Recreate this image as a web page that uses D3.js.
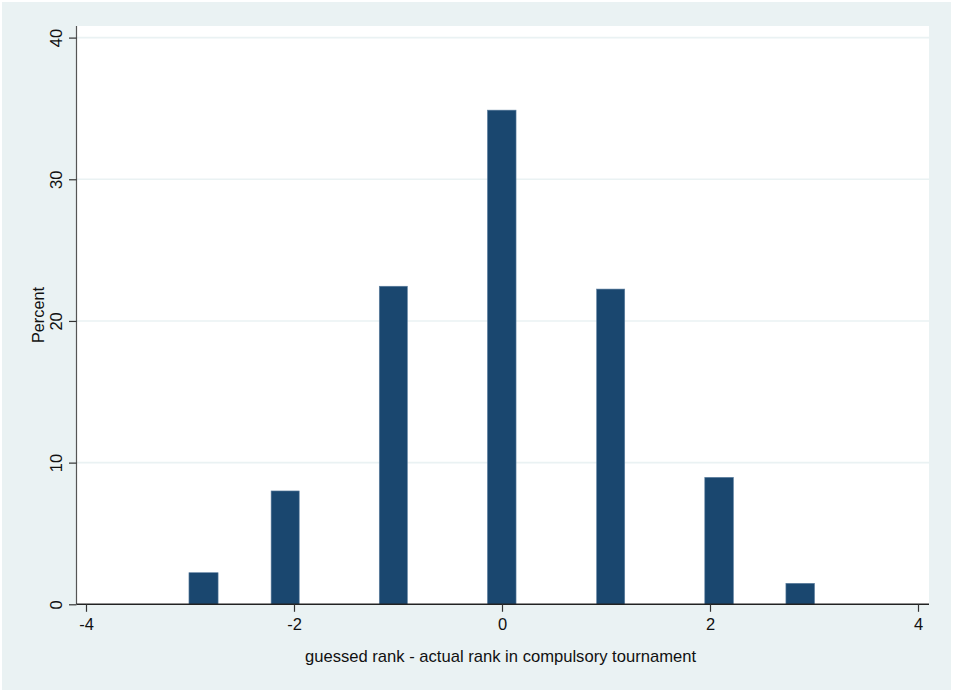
<!DOCTYPE html>
<html>
<head>
<meta charset="utf-8">
<script src="https://cdn.jsdelivr.net/npm/d3@7"></script>
<style>
  html, body { margin: 0; padding: 0; background: #ffffff; }
  svg { display: block; font-family: "Liberation Sans", Arial, sans-serif; }
</style>
</head>
<body>
<svg id="chart" width="953" height="692"></svg>
<script>
// Data (histogram bins: left edge, right edge, percent)
const binStart = [-3.01, -2.22, -1.18, -0.14, 0.91, 1.95, 2.73];
const binEnd   = [-2.73, -1.95, -0.91,  0.135, 1.18, 2.225, 3.005];
const percent  = [2.23, 8.0, 22.45, 34.88, 22.25, 8.96, 1.48];
const xTicks = [-4, -2, 0, 2, 4];
const yTicks = [0, 10, 20, 30, 40];
const xTitle = "guessed rank - actual rank in compulsory tournament";
const yTitle = "Percent";

const svg = d3.select("#chart");
const W = 953, H = 692;

// outer background
svg.append("rect").attr("x", 0).attr("y", 0).attr("width", W).attr("height", H).attr("fill", "#ffffff");
svg.append("rect").attr("x", 2).attr("y", 2).attr("width", W - 4).attr("height", H - 4).attr("fill", "#eaf2f3");

const plot = { left: 76.5, right: 929, top: 26, bottom: 604.3 };
svg.append("rect").attr("x", plot.left).attr("y", plot.top)
  .attr("width", plot.right - plot.left).attr("height", plot.bottom - plot.top)
  .attr("fill", "#ffffff");

const x = d3.scaleLinear().domain([-4, 4]).range([86, 918]);
const y = d3.scaleLinear().domain([0, 40]).range([604.3, 37.6]);

// gridlines
svg.append("g").selectAll("line").data(yTicks.filter(d => d > 0)).join("line")
  .attr("x1", plot.left).attr("x2", plot.right)
  .attr("y1", d => y(d)).attr("y2", d => y(d))
  .attr("stroke", "#eaf2f3").attr("stroke-width", 1.6);

// bars
const bins = binStart.map((s, i) => ({ x0: s, x1: binEnd[i], v: percent[i] }));
svg.append("g").selectAll("rect").data(bins).join("rect")
  .attr("x", d => x(d.x0)).attr("width", d => x(d.x1) - x(d.x0))
  .attr("y", d => y(d.v)).attr("height", d => y(0) - y(d.v))
  .attr("fill", "#1a476f").attr("stroke", "#5d7f9f").attr("stroke-width", 0.6);

// y axis
const yAxis = d3.axisLeft(y).tickValues(yTicks).tickSize(7.5).tickPadding(6).tickFormat(d3.format("d"));
const gy = svg.append("g").attr("transform", `translate(${plot.left},0)`).call(yAxis);
gy.select(".domain").attr("d", `M0,${plot.top}V${plot.bottom}`).attr("stroke", "#555").attr("stroke-width", 1.2);
gy.selectAll(".tick line").attr("stroke", "#333").attr("stroke-width", 1.2);
gy.selectAll(".tick text")
  .attr("font-size", 16.5).attr("fill", "#111").attr("font-family", "Liberation Sans, Arial, sans-serif")
  .attr("x", 0).attr("dy", 0)
  .attr("text-anchor", "middle")
  .attr("transform", "translate(-14.5,0) rotate(-90)");

// x axis
const xAxis = d3.axisBottom(x).tickValues(xTicks).tickSize(7.5).tickPadding(6).tickFormat(d3.format("d"));
const gx = svg.append("g").attr("transform", `translate(0,${plot.bottom})`).call(xAxis);
gx.select(".domain").attr("d", `M${plot.left},0H${plot.right}`).attr("stroke", "#222").attr("stroke-width", 1.4);
gx.selectAll(".tick line").attr("stroke", "#333").attr("stroke-width", 1.2);
gx.selectAll(".tick text")
  .attr("font-size", 16.5).attr("fill", "#111").attr("font-family", "Liberation Sans, Arial, sans-serif")
  .attr("y", 14).attr("dy", "0.71em")
  .text(d => d < 0 ? "-" + Math.abs(d) : d);

// titles
svg.append("text").attr("x", 500.5).attr("y", 662).attr("text-anchor", "middle")
  .attr("font-size", 16.6).attr("fill", "#111").text(xTitle);
svg.append("text").attr("transform", "translate(44,315) rotate(-90)").attr("text-anchor", "middle")
  .attr("font-size", 16.3).attr("fill", "#111").text(yTitle);
</script>
</body>
</html>
